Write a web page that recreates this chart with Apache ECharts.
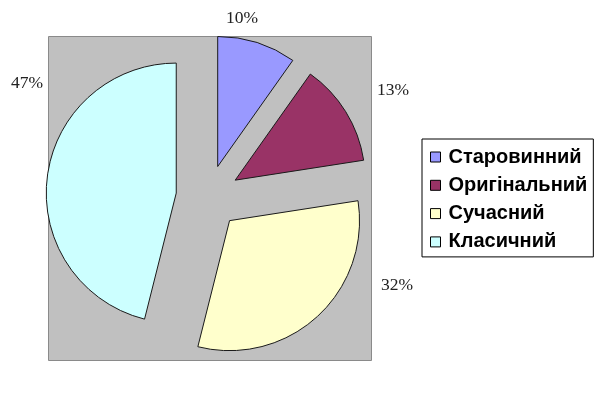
<!DOCTYPE html>
<html>
<head>
<meta charset="utf-8">
<script src="https://cdn.jsdelivr.net/npm/echarts@6/dist/echarts.min.js"></script>
<style>
html,body{margin:0;padding:0;background:#fff;}
#chart{width:596px;height:393px;}
</style>
</head>
<body>
<div id="chart"></div>
<script>
// Data
const categories = ['Старовинний', 'Оригінальний', 'Сучасний', 'Класичний'];
const values = [10, 13, 32, 47];

// Styles / layout (not data)
const colors = ['#9999ff', '#993366', '#ffffcc', '#ccffff'];
const labelPos = [[242, 18], [393, 90], [397, 285], [27, 83]];

const labelTexts = values.map((v, i) => ({
  type: 'text',
  z: 10,
  x: labelPos[i][0],
  y: labelPos[i][1],
  style: {
    text: v + '%',
    fill: '#222',
    font: '17.5px "Liberation Serif", "Times New Roman", serif',
    align: 'center',
    verticalAlign: 'middle'
  }
}));

const chart = echarts.init(document.getElementById('chart'), null, {renderer: 'canvas'});
chart.setOption({
  animation: false,
  backgroundColor: '#ffffff',
  graphic: [{
    type: 'rect',
    z: -10,
    shape: {x: 48.5, y: 36.5, width: 323, height: 324},
    style: {fill: '#c0c0c0', stroke: '#8a8a8a', lineWidth: 1}
  }].concat(labelTexts),
  legend: {
    orient: 'vertical',
    left: 422,
    top: 139,
    padding: [8, 6, 5, 8],
    itemWidth: 10,
    itemHeight: 10,
    itemGap: 8.3,
    borderColor: '#000',
    borderWidth: 1,
    icon: 'rect',
    selectedMode: false,
    itemStyle: {borderColor: '#000', borderWidth: 1},
    textStyle: {fontFamily: 'Liberation Sans, Arial, sans-serif', fontSize: 20, fontWeight: 'bold', color: '#000', padding: [0, 0, 0, 3]},
    data: categories
  },
  series: [{
    type: 'pie',
    center: [208, 197],
    radius: [0, 130],
    startAngle: 90,
    clockwise: true,
    selectedMode: 'multiple',
    selectedOffset: 32,
    avoidLabelOverlap: false,
    emphasis: {disabled: true},
    itemStyle: {borderColor: '#1a1a1a', borderWidth: 1},
    label: {show: false},
    labelLine: {show: false},
    data: categories.map((c, i) => ({
      name: c,
      value: values[i],
      selected: true,
      itemStyle: {color: colors[i]}
    }))
  }]
});
</script>
</body>
</html>
